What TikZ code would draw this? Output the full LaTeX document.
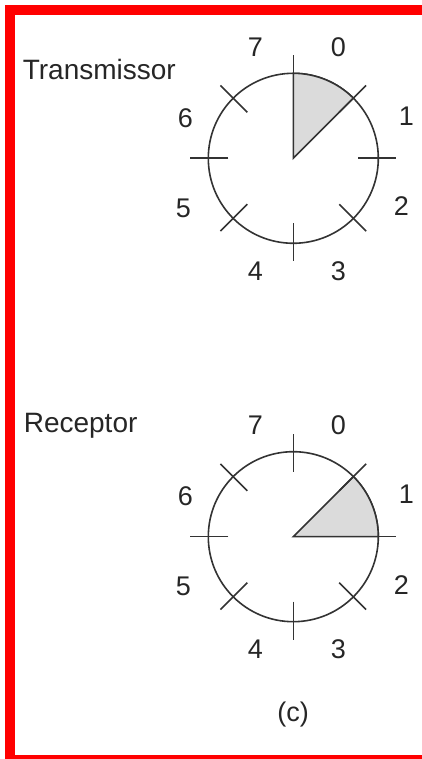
\documentclass[tikz,border=0pt]{standalone}
\usepackage{fontspec}
\setmainfont{Liberation Sans}
\usetikzlibrary{calc}

\begin{document}
\begin{tikzpicture}[
    x=1pt,
    y=1pt,
    line width=1.6pt,
    disco/.style={circle, draw=black!80, minimum size=170pt, inner sep=0pt},
    marca/.style={draw=black!80},
    setor/.style={fill=black!14, draw=black!80},
    rotulo/.style={text=black!85, font=\fontsize{27}{32}\selectfont, inner sep=0pt},
    titulo/.style={rotulo, font=\fontsize{28}{33}\selectfont, anchor=base west}
    ]
    
    \useasboundingbox (0,0) rectangle (421,759);
    \draw[red, line width=10pt] (10,-1) rectangle (440,749);
    
    % transmissor
    \node[titulo] (txt) at (22,679) {Transmissor};
    \node[disco] (tx) at (293.3,600.7) {};
    \draw[setor] (tx.center) -- ++(90:85) arc (90:45:85) -- cycle;
    \foreach \a in {0,45,...,315}
      \draw[marca] ($(tx.center)+(\a:65)$) -- ($(tx.center)+(\a:103)$);
    \foreach \k/\dx/\dy in {0/45/111,1/113/42,2/108/-48,3/45/-113,
                            4/-38/-113,5/-110/-50,6/-108/40,7/-38/111}
      \node[rotulo] (tx-\k) at ($(tx.center)+(\dx,\dy)$) {\k};
    
    % receptor
    \node[titulo] (rxt) at (23,326.3) {Receptor};
    \node[disco] (rx) at (293.3,222.3) {};
    \draw[setor] (rx.center) -- ++(45:85) arc (45:0:85) -- cycle;
    \foreach \a in {0,45,...,315}
      \draw[marca] ($(rx.center)+(\a:65)$) -- ($(rx.center)+(\a:103)$);
    \foreach \k/\dx/\dy in {0/45/111,1/113/42,2/108/-48,3/45/-113,
                            4/-38/-113,5/-110/-50,6/-108/40,7/-38/111}
      \node[rotulo] (rx-\k) at ($(rx.center)+(\dx,\dy)$) {\k};
    
    \node[rotulo] (leg) at (293,44) {(c)};
    
\end{tikzpicture}
\end{document}
